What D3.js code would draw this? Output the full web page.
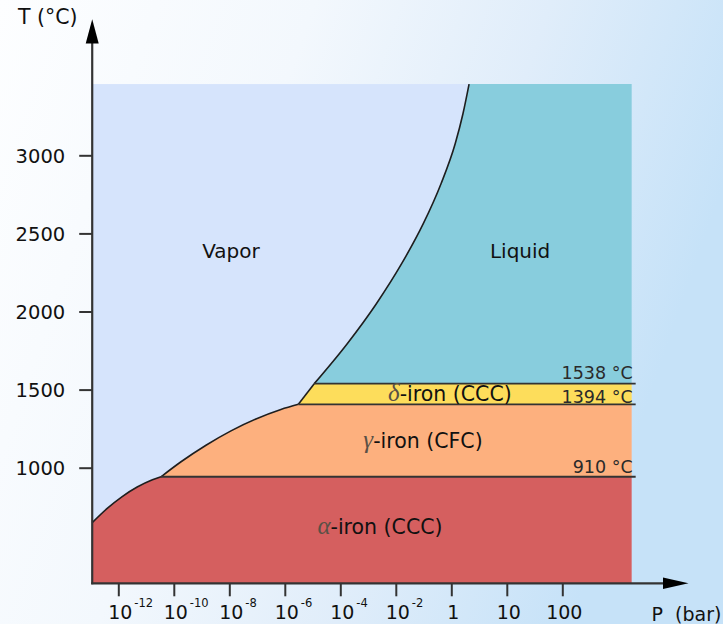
<!DOCTYPE html>
<html><head><meta charset="utf-8">
<script src="https://cdn.jsdelivr.net/npm/d3@7"></script>
<style>html,body{margin:0;padding:0;overflow:hidden;background:#fff}</style>
</head><body>
<svg id="chart" width="723" height="624"></svg>
<script>
// ---- data (pressure as log10 of bar, temperature in °C) ----
const xTickValues = [-12, -10, -8, -6, -4, -2, 0, 1, 2];
const xTickBase = ["10", "10", "10", "10", "10", "10", "1", "10", "100"];
const xTickExp = ["-12", "-10", "-8", "-6", "-4", "-2", "", "", ""];
const yTickValues = [1000, 1500, 2000, 2500, 3000];
const pressureExtent = [-12.94, 3.25];
const temperatureExtent = [260, 3456];
const alphaBoundary = [[-12.94, 648], [-12.40, 739], [-11.86, 815], [-11.32, 876], [-10.77, 923], [-10.46, 942]];
const gammaBoundary = [[-10.46, 942], [-9.74, 1038], [-8.84, 1144], [-7.94, 1236], [-7.04, 1312], [-6.14, 1373], [-5.51, 1406]];
const deltaBoundary = [[-5.51, 1406], [-4.94, 1538]];
const liquidBoundary = [[-4.94, 1538], [-3.75, 1794], [-2.70, 2050], [-1.79, 2306], [-1.01, 2562], [-0.37, 2818], [0.07, 3074], [0.21, 3266], [0.32, 3456]];
const transitionTemps = [942, 1406, 1538];
const transitionLabels = ["910 °C", "1394 °C", "1538 °C"];
const phaseGreek = ["", "", "δ", "γ", "α"];
const phaseText = ["Vapor", "Liquid", "-iron (CCC)", "-iron (CFC)", "-iron (CCC)"];
const phaseP = [-7.94, 1.24, -0.05, -1.02, -2.57];
const phaseT = [2387, 2387, 1472, 1171, 620];

// ---- scales ----
const x = d3.scaleLinear().domain([-12, 0, 2]).range([118.3, 451.3, 562.3]);
const y = d3.scaleLinear().domain([1000, 3000]).range([467.7, 155.3]);

const svg = d3.select("#chart");
const defs = svg.append("defs");
const bg = defs.append("linearGradient").attr("id", "bg").attr("x1", 0).attr("x2", 1).attr("y1", 0).attr("y2", 0.3);
[[0, "#fdfeff"], [0.4, "#f3f8fd"], [0.7, "#e0edfa"], [1, "#c6e2f8"]].forEach(s => bg.append("stop").attr("offset", s[0]).attr("stop-color", s[1]));
svg.append("rect").attr("width", 723).attr("height", 624).attr("fill", "url(#bg)");

const X0 = x(pressureExtent[0]), X1 = x(pressureExtent[1]);
const Y0 = y(temperatureExtent[0]), Y1 = y(temperatureExtent[1]);
const curveLine = d3.line().x(d => x(d[0])).y(d => y(d[1])).curve(d3.curveMonotoneX);
const pt = (p, t) => `${x(p)},${y(t)}`;
const [tA, tG, tD] = transitionTemps;
const pR = pressureExtent[1], pL = pressureExtent[0];

const g = svg.append("g");
// vapor
g.append("rect").attr("x", X0).attr("y", Y1).attr("width", X1 - X0).attr("height", Y0 - Y1).attr("fill", "#d6e4fc");
// liquid
g.append("path").attr("fill", "#88cddd")
  .attr("d", curveLine(liquidBoundary) + `L${pt(pR, temperatureExtent[1])}L${pt(pR, tD)}Z`);
// delta
g.append("path").attr("fill", "#fddd5b")
  .attr("d", `M${pt(deltaBoundary[0][0], tG)}L${pt(deltaBoundary[1][0], tD)}L${pt(pR, tD)}L${pt(pR, tG)}Z`);
// gamma
g.append("path").attr("fill", "#fdb07e")
  .attr("d", curveLine(gammaBoundary) + `L${pt(pR, tG)}L${pt(pR, tA)}Z`);
// alpha
g.append("path").attr("fill", "#d55f5f")
  .attr("d", curveLine(alphaBoundary) + `L${pt(pR, tA)}L${pt(pR, temperatureExtent[0])}L${pt(pL, temperatureExtent[0])}Z`);

// boundaries
const bstroke = "#1e1e1e";
[alphaBoundary, gammaBoundary, deltaBoundary, liquidBoundary].forEach(b =>
  g.append("path").attr("d", curveLine(b)).attr("fill", "none").attr("stroke", bstroke).attr("stroke-width", 1.6));
const startP = [alphaBoundary[alphaBoundary.length - 1][0], gammaBoundary[gammaBoundary.length - 1][0], liquidBoundary[0][0]];
transitionTemps.forEach((t, i) => {
  g.append("line").attr("x1", x(startP[i])).attr("x2", X1 + 4).attr("y1", y(t)).attr("y2", y(t))
    .attr("stroke", "#333").attr("stroke-width", 1.8);
});
const labelShift = [-3.4, -1, -4.5];
transitionLabels.forEach((l, i) => {
  g.append("text").attr("x", X1 + 1).attr("y", y(transitionTemps[i]) + labelShift[i])
    .attr("text-anchor", "end").attr("font-family", "DejaVu Sans").attr("font-size", 17.5)
    .attr("fill", "#2a2a2a").text(l);
});

// phase labels
phaseText.forEach((t, i) => {
  const greek = !!phaseGreek[i];
  const tx = g.append("text").attr("x", x(phaseP[i])).attr("y", y(phaseT[i])).attr("dy", "0.35em")
    .attr("text-anchor", "middle").attr("font-family", "DejaVu Sans").attr("font-size", greek ? 20.5 : 20).attr("fill", "#111");
  if (greek) {
    tx.append("tspan").attr("font-family", "Liberation Serif").attr("font-style", "italic")
      .attr("font-size", 25).attr("fill", "#5a5046").text(phaseGreek[i]);
  }
  tx.append("tspan").text(t);
});

// axes
const axisColor = "#333";
const yAxis = svg.append("g").attr("transform", `translate(${X0},0)`)
  .call(d3.axisLeft(y).tickValues(yTickValues).tickSize(13).tickPadding(14).tickFormat(d3.format("d")));
yAxis.select(".domain").remove();
yAxis.selectAll("line").attr("stroke", axisColor).attr("stroke-width", 2);
yAxis.selectAll("text").attr("font-family", "DejaVu Sans").attr("font-size", 19.5).attr("fill", "#111").attr("dy", "0.36em");

const xAxis = svg.append("g").attr("transform", `translate(0,${Y0})`)
  .call(d3.axisBottom(x).tickValues(xTickValues).tickSize(13).tickFormat(""));
xAxis.select(".domain").remove();
xAxis.selectAll("line").attr("stroke", axisColor).attr("stroke-width", 2);
xAxis.selectAll(".tick").each(function (d, i) {
  const t = d3.select(this);
  t.append("text").attr("x", 1.5).attr("y", 36.2).attr("text-anchor", "middle")
    .attr("font-family", "DejaVu Sans").attr("font-size", 19).attr("fill", "#111").text(xTickBase[i]);
  if (xTickExp[i]) {
    t.append("text").attr("x", 15.5).attr("y", 24).attr("text-anchor", "start")
      .attr("font-family", "DejaVu Sans").attr("font-size", 11.5).attr("fill", "#111").text(xTickExp[i]);
  }
});

// axis lines with arrows
svg.append("line").attr("x1", X0).attr("x2", X0).attr("y1", Y0 + 1).attr("y2", 42).attr("stroke", axisColor).attr("stroke-width", 2.2);
svg.append("path").attr("d", `M${X0},19.3L${X0 - 6.5},43.5L${X0 + 6.5},43.5Z`).attr("fill", "#000");
svg.append("line").attr("x1", X0 - 1).attr("x2", 665).attr("y1", Y0).attr("y2", Y0).attr("stroke", axisColor).attr("stroke-width", 2.2);
svg.append("path").attr("d", `M688.5,${Y0}L663,${Y0 - 5.8}L663,${Y0 + 5.8}Z`).attr("fill", "#000");

svg.append("text").attr("x", 18).attr("y", 24.3).attr("font-family", "DejaVu Sans").attr("font-size", 20.5).attr("fill", "#111").text("T (°C)");
svg.append("text").attr("x", 651.5).attr("y", 620.5).attr("font-family", "DejaVu Sans").attr("font-size", 19).attr("fill", "#111").attr("xml:space", "preserve").text("P  (bar)");
</script>
</body></html>
